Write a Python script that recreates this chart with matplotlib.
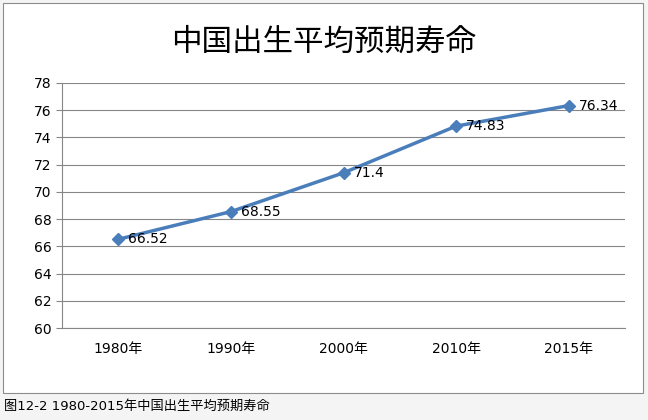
import matplotlib.pyplot as plt
from matplotlib.patches import Rectangle

years = ['1980年', '1990年', '2000年', '2010年', '2015年']
life = [66.52, 68.55, 71.4, 74.83, 76.34]
labels = ['66.52', '68.55', '71.4', '74.83', '76.34']

cjk = ['DejaVu Sans', 'Noto Sans CJK SC', 'Noto Sans CJK JP', 'Noto Sans CJK TC']
plt.rcParams['font.family'] = cjk

fig = plt.figure(figsize=(6.48, 4.2), dpi=100)
fig.patch.set_facecolor('#f4f4f4')

# chart frame, behind the axes
frame = Rectangle((3 / 648, 1 - 393 / 420), 640 / 648, 390 / 420,
                  transform=fig.transFigure, facecolor='white',
                  edgecolor='#8c8c8c', linewidth=0.8, zorder=-10)
fig.patches.append(frame)

ax = fig.add_axes([62 / 648, 1 - 328 / 420, 563 / 648, 245 / 420])
ax.set_facecolor('none')
x = range(len(years))
ax.plot(x, life, color='#4a7ebb', linewidth=2.5, marker='D', markersize=6)
for i, v in enumerate(life):
    ax.text(i + 0.09, v, labels[i], va='center', ha='left', fontsize=10)

ax.set_xlim(-0.5, len(years) - 0.5)
ax.set_ylim(60, 78)
ax.set_yticks(range(60, 79, 2))
ax.set_xticks(list(x))
ax.set_xticklabels(years)
ax.tick_params(axis='both', labelsize=10, length=4, color='#868686')
ax.tick_params(axis='x', length=0, pad=10)
ax.grid(axis='y', color='#868686', linewidth=0.8)
ax.set_axisbelow(True)
for s in ['top', 'right']:
    ax.spines[s].set_visible(False)
ax.spines['left'].set_color('#868686')
ax.spines['bottom'].set_color('#868686')

fig.text(0.5, 1 - 42 / 420, '中国出生平均预期寿命', ha='center', va='center',
         fontsize=22)
fig.text(4 / 648, 1 - 406 / 420, '图12-2 1980-2015年中国出生平均预期寿命',
         ha='left', va='center', fontsize=9.5)

fig.savefig('out.png', dpi=100, facecolor=fig.get_facecolor())
